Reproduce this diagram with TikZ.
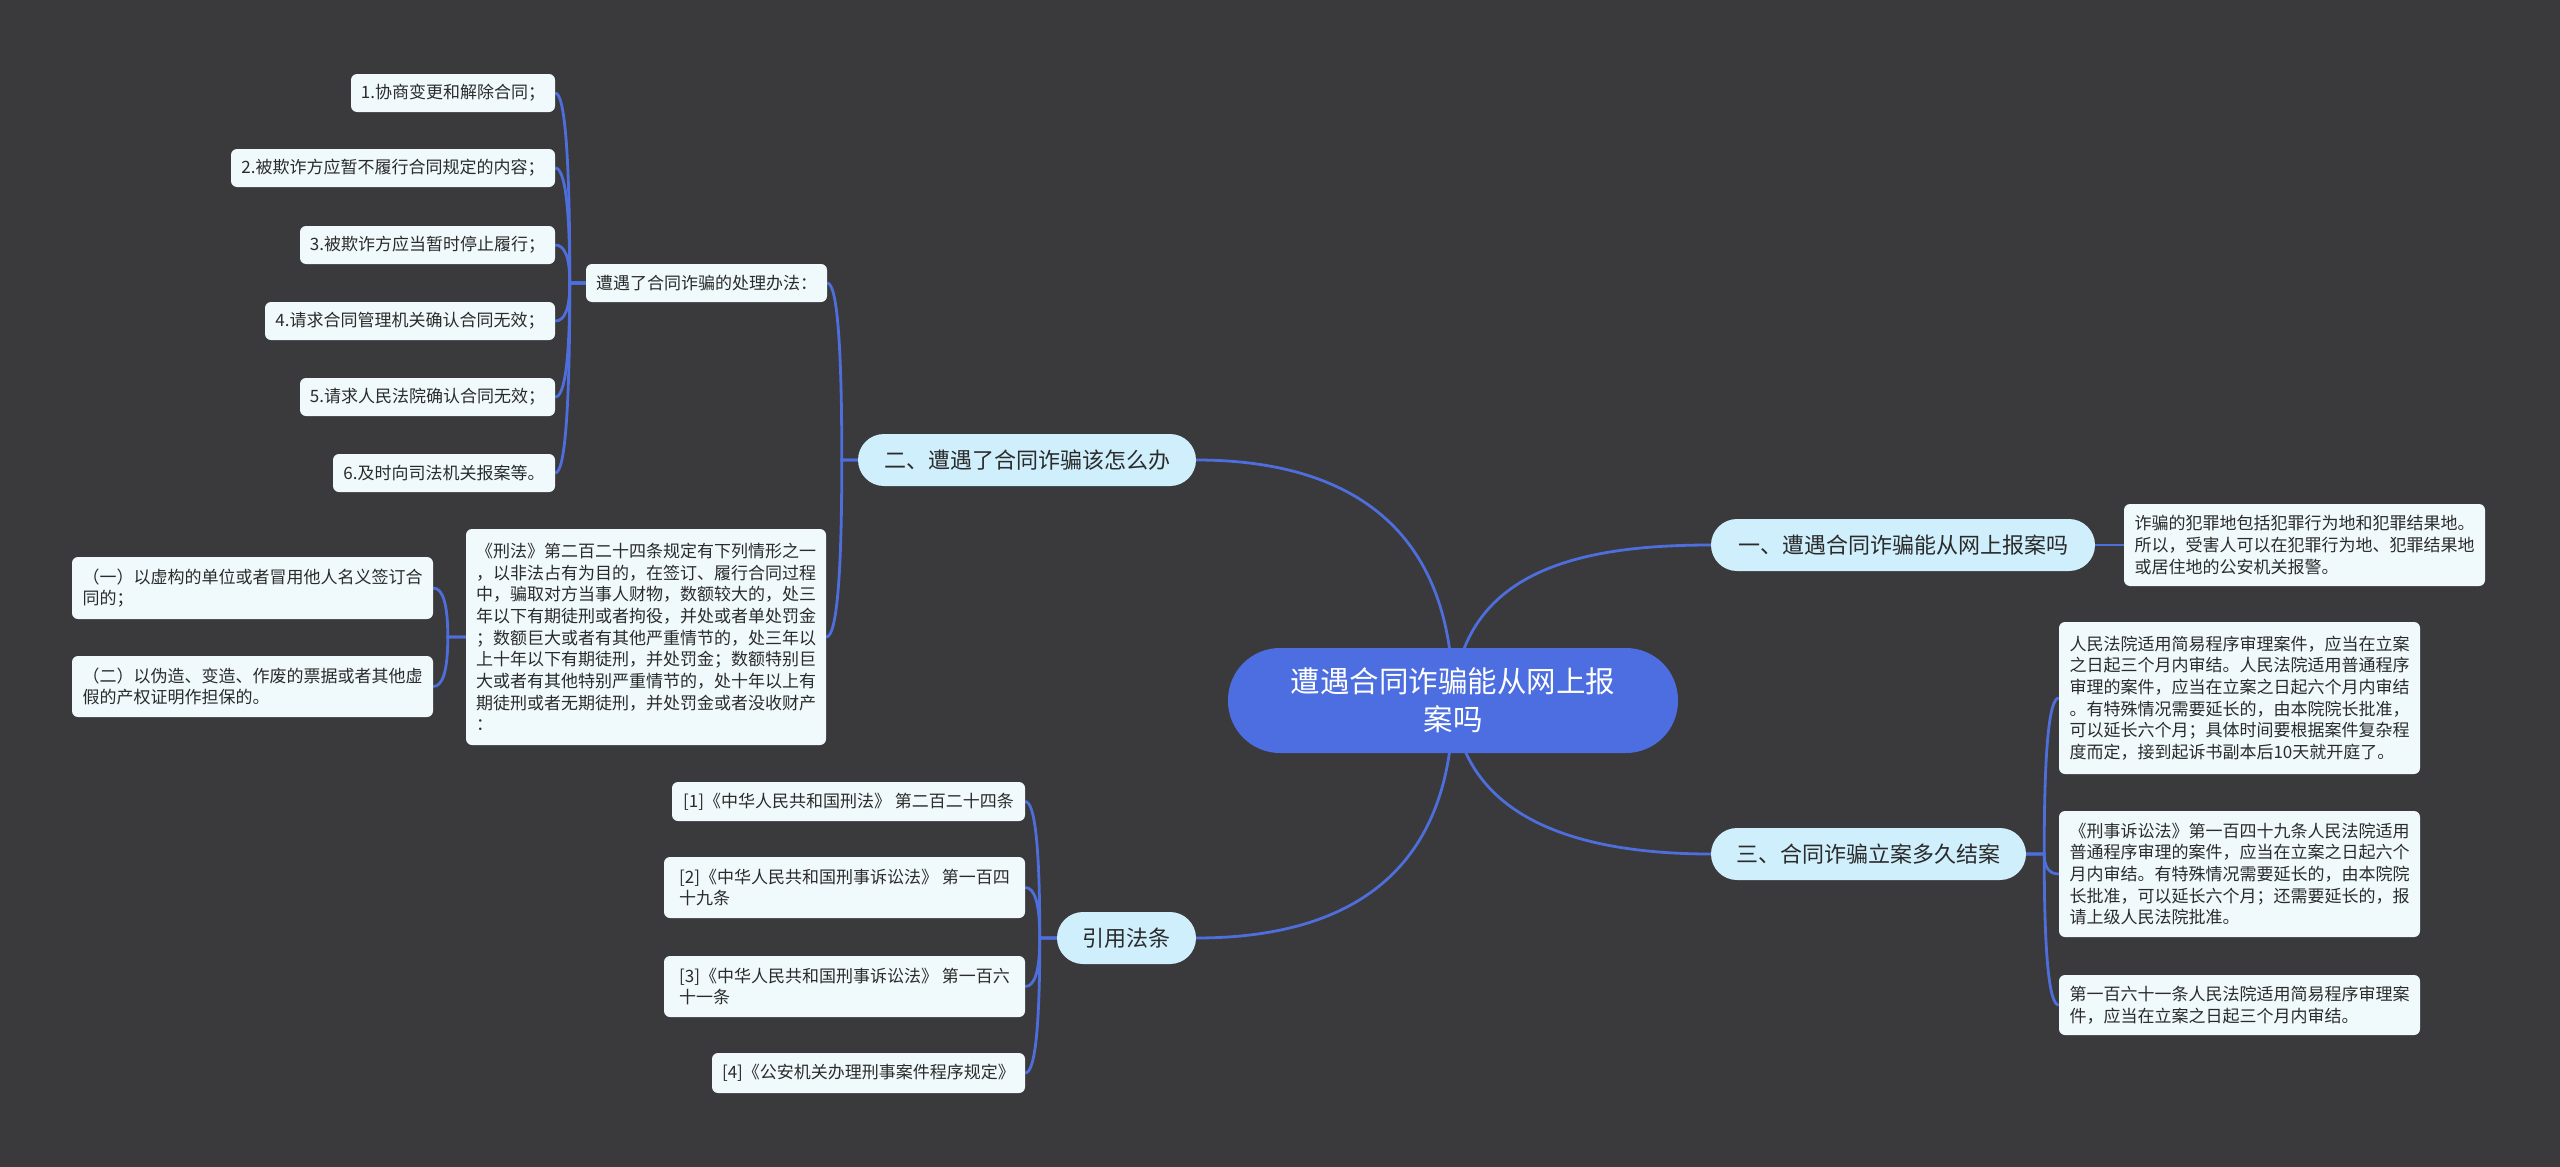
\documentclass[tikz,border=0pt]{standalone}
\usepackage{fontspec}
\newfontfamily\cjk{Noto Sans CJK SC}
\usetikzlibrary{calc}
\definecolor{bgc}{HTML}{3A393B}
\definecolor{linkc}{HTML}{4E6EDB}
\definecolor{rootc}{HTML}{4C6EE0}
\definecolor{branchc}{HTML}{CFEFFC}
\definecolor{leafc}{HTML}{F0FAFC}
\definecolor{txtc}{HTML}{2B2B2B}
\pgfdeclarelayer{bg}
\pgfsetlayers{bg,main}
\tikzset{
  box/.style={rectangle, inner sep=0pt, anchor=center, align=left, text=txtc,
    font=\cjk\fontsize{17}{21.7}\selectfont},
  leafbox/.style={box, fill=leafc, rounded corners=6pt},
  branchbox/.style={box, fill=branchc, rounded corners=26pt, align=center,
    font=\cjk\fontsize{22}{28}\selectfont},
  rootbox/.style={box, fill=rootc, rounded corners=52pt, align=center, text=white,
    font=\cjk\fontsize{29.5}{38}\selectfont},
  link/.style={draw=linkc, line width=2.8pt},
}
% parent anchor, trunk offset, child anchor
\newcommand\conn[3]{%
  \draw[link] let \p1=(#1), \p2=(#3), \n1={\x1+(#2)} in
    (\p1) -- (\n1,\y1) .. controls (\n1,{\y1+0.667*(\y2-\y1)}) and ({\x2+0.667*(\n1-\x2)},\y2) .. (\p2);}
\begin{document}
\begin{tikzpicture}[x=1pt,y=-1pt]
\useasboundingbox (0,0) rectangle (2560,1167);
% root
\node[rootbox, minimum width=450, minimum height=105] (root) at (1453,700.5) {遭遇合同诈骗能从网上报\\案吗};
% right side
\node[branchbox, minimum width=384, minimum height=52] (b1) at (1903,545) {一、遭遇合同诈骗能从网上报案吗};
\node[leafbox, minimum width=361, minimum height=82] (r1) at (2304.5,545) {诈骗的犯罪地包括犯罪行为地和犯罪结果地。\\所以，受害人可以在犯罪行为地、犯罪结果地\\或居住地的公安机关报警。};
\node[branchbox, minimum width=315, minimum height=52] (b3) at (1868.5,854) {三、合同诈骗立案多久结案};
\node[leafbox, minimum width=361, minimum height=152] (ra) at (2239.5,698) {人民法院适用简易程序审理案件，应当在立案\\之日起三个月内审结。人民法院适用普通程序\\审理的案件，应当在立案之日起六个月内审结\\。有特殊情况需要延长的，由本院院长批准，\\可以延长六个月；具体时间要根据案件复杂程\\度而定，接到起诉书副本后10天就开庭了。};
\node[leafbox, minimum width=361, minimum height=126] (rb) at (2239.5,874) {《刑事诉讼法》第一百四十九条人民法院适用\\普通程序审理的案件，应当在立案之日起六个\\月内审结。有特殊情况需要延长的，由本院院\\长批准，可以延长六个月；还需要延长的，报\\请上级人民法院批准。};
\node[leafbox, minimum width=361, minimum height=60] (rc) at (2239.5,1005) {第一百六十一条人民法院适用简易程序审理案\\件，应当在立案之日起三个月内审结。};
% left upper
\node[branchbox, minimum width=338, minimum height=52] (b2) at (1027,460) {二、遭遇了合同诈骗该怎么办};
\node[leafbox, minimum width=241, minimum height=38] (sub) at (706.5,283) {遭遇了合同诈骗的处理办法：};
\node[leafbox, minimum width=204, minimum height=38] (l1) at (453,93) {1.协商变更和解除合同；};
\node[leafbox, minimum width=324, minimum height=38] (l2) at (393,168) {2.被欺诈方应暂不履行合同规定的内容；};
\node[leafbox, minimum width=255, minimum height=38] (l3) at (427.5,245) {3.被欺诈方应当暂时停止履行；};
\node[leafbox, minimum width=290, minimum height=38] (l4) at (410,321) {4.请求合同管理机关确认合同无效；};
\node[leafbox, minimum width=255, minimum height=38] (l5) at (427.5,397) {5.请求人民法院确认合同无效；};
\node[leafbox, minimum width=222, minimum height=38] (l6) at (444,473) {6.及时向司法机关报案等。};
\node[leafbox, minimum width=360, minimum height=216] (para) at (646,637) {《刑法》第二百二十四条规定有下列情形之一\\，以非法占有为目的，在签订、履行合同过程\\中，骗取对方当事人财物，数额较大的，处三\\年以下有期徒刑或者拘役，并处或者单处罚金\\；数额巨大或者有其他严重情节的，处三年以\\上十年以下有期徒刑，并处罚金；数额特别巨\\大或者有其他特别严重情节的，处十年以上有\\期徒刑或者无期徒刑，并处罚金或者没收财产\\：};
\node[leafbox, minimum width=361, minimum height=62] (p1) at (252.5,588) {（一）以虚构的单位或者冒用他人名义签订合\\同的；};
\node[leafbox, minimum width=361, minimum height=61] (p2) at (252.5,686.5) {（二）以伪造、变造、作废的票据或者其他虚\\假的产权证明作担保的。};
% left lower
\node[branchbox, minimum width=139, minimum height=52] (ref) at (1126.5,938) {引用法条};
\node[leafbox, minimum width=353, minimum height=39] (c1) at (848.5,801.5) {[1]《中华人民共和国刑法》 第二百二十四条};
\node[leafbox, minimum width=361, minimum height=61] (c2) at (844.5,887.5) {[2]《中华人民共和国刑事诉讼法》 第一百四\\十九条};
\node[leafbox, minimum width=361, minimum height=61] (c3) at (844.5,986.5) {[3]《中华人民共和国刑事诉讼法》 第一百六\\十一条};
\node[leafbox, minimum width=313, minimum height=40] (c4) at (868.5,1073) {[4]《公安机关办理刑事案件程序规定》};

\begin{pgfonlayer}{bg}
\fill[bgc] (0,0) rectangle (2560,1167);
% root connectors
\draw[link] (root.center) .. controls (1453,520) and (1340,460) .. (b2.east);
\draw[link] (root.center) .. controls (1453,880) and (1340,938) .. (ref.east);
\draw[link] (root.center) .. controls (1462,570) and (1580,545) .. (b1.west);
\draw[link] (root.center) .. controls (1462,820) and (1580,854) .. (b3.west);
% right
\draw[link] (b1.east) -- (r1.west);
\conn{b3.east}{18}{ra.west}
\conn{b3.east}{18}{rb.west}
\conn{b3.east}{18}{rc.west}
% left upper
\conn{b2.west}{-16}{sub.east}
\conn{b2.west}{-16}{para.east}
\conn{sub.west}{-16}{l1.east}
\conn{sub.west}{-16}{l2.east}
\conn{sub.west}{-16}{l3.east}
\conn{sub.west}{-16}{l4.east}
\conn{sub.west}{-16}{l5.east}
\conn{sub.west}{-16}{l6.east}
\conn{para.west}{-18}{p1.east}
\conn{para.west}{-18}{p2.east}
% left lower
\conn{ref.west}{-17}{c1.east}
\conn{ref.west}{-17}{c2.east}
\conn{ref.west}{-17}{c3.east}
\conn{ref.west}{-17}{c4.east}
\end{pgfonlayer}
\end{tikzpicture}
\end{document}
